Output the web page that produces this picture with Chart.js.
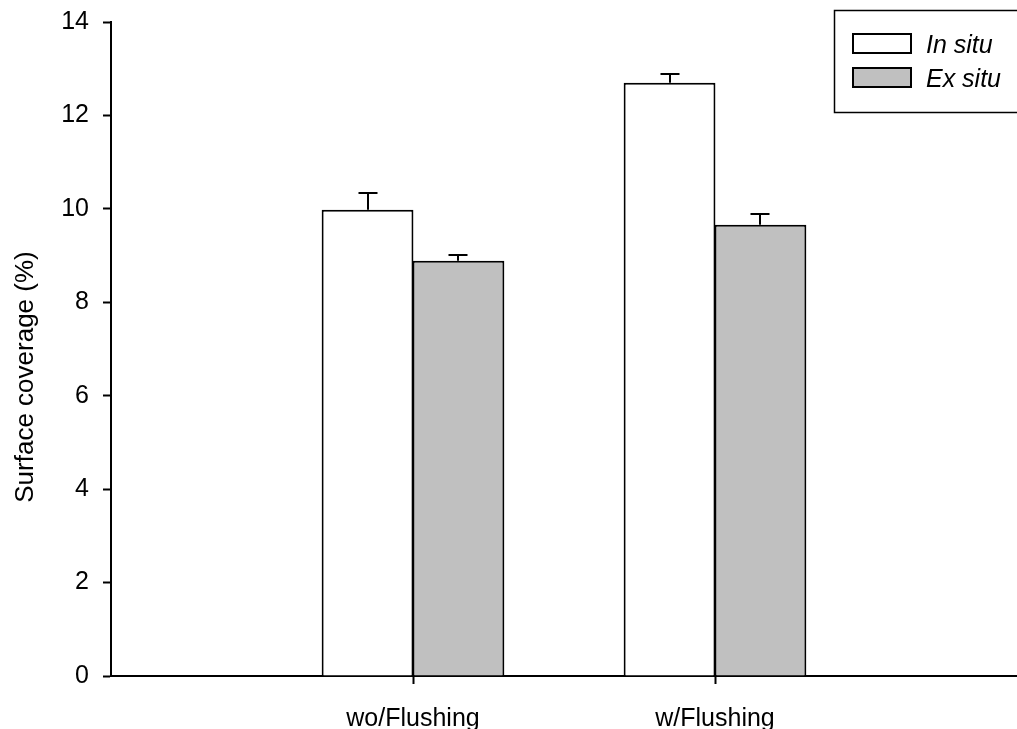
<!DOCTYPE html>
<html>
<head>
<meta charset="utf-8">
<script src="https://cdn.jsdelivr.net/npm/chart.js@4/dist/chart.umd.min.js"></script>
<style>
  html, body { margin: 0; padding: 0; background: #fff; }
  canvas { display: block; }
</style>
</head>
<body>
<canvas id="chart" width="1017" height="729"></canvas>
<script>
// Surface coverage with and without flushing, in situ vs ex situ
const categories = ['wo/Flushing', 'w/Flushing'];
const inSitu     = [9.98, 12.70];
const inSituErr  = [0.35, 0.19];
const exSitu     = [8.89, 9.66];
const exSituErr  = [0.13, 0.22];
const yMax  = 14;
const yStep = 2;
const yTitle = 'Surface coverage (%)';
const seriesNames = ['In situ', 'Ex situ'];

const FONT = '"Liberation Sans", Arial, sans-serif';
Chart.defaults.color = '#000';
Chart.defaults.font.family = FONT;

// empty slots at both ends so the two groups sit at 1/3 and 2/3 of the axis
const labels = ['', ...categories, ''];
const pad = arr => [null, ...arr, null];

// keep the plot area fixed: no extra room reserved for edge labels
function fixSize(size, key) {
  return scale => {
    scale[key] = size;
    scale.paddingTop = 0;
    scale.paddingBottom = 0;
    scale.paddingLeft = 0;
    scale.paddingRight = 0;
  };
}

// upward error bars with a short cap
const errorBars = {
  id: 'errorBars',
  afterDatasetsDraw(chart) {
    const ctx = chart.ctx;
    const y = chart.scales.y;
    ctx.save();
    ctx.strokeStyle = '#000';
    ctx.lineWidth = 2;
    chart.data.datasets.forEach((ds, di) => {
      const meta = chart.getDatasetMeta(di);
      meta.data.forEach((el, i) => {
        const v = ds.data[i];
        const e = ds.errors[i];
        if (v == null || e == null) return;
        const x = Math.round(el.x);
        const y0 = y.getPixelForValue(v);
        const y1 = Math.round(y.getPixelForValue(v + e));
        ctx.beginPath();
        ctx.moveTo(x, y0);
        ctx.lineTo(x, y1);
        ctx.moveTo(x - 9.5, y1);
        ctx.lineTo(x + 9.5, y1);
        ctx.stroke();
      });
    });
    ctx.restore();
  }
};

// rotated axis title and boxed legend
const decorations = {
  id: 'decorations',
  afterDraw(chart) {
    const ctx = chart.ctx;
    ctx.save();
    ctx.fillStyle = '#000';
    ctx.translate(33, 377);
    ctx.rotate(-Math.PI / 2);
    ctx.font = '26px ' + FONT;
    ctx.textAlign = 'center';
    ctx.textBaseline = 'alphabetic';
    ctx.fillText(yTitle, 0, 0);
    ctx.restore();

    ctx.save();
    ctx.strokeStyle = '#000';
    ctx.lineWidth = 1.5;
    ctx.strokeRect(834.5, 10.5, 200, 102);
    const rows = [34, 68];
    chart.data.datasets.forEach((ds, i) => {
      const top = rows[i];
      ctx.fillStyle = ds.backgroundColor;
      ctx.fillRect(853, top, 58, 19);
      ctx.lineWidth = 2;
      ctx.strokeRect(853, top, 58, 19);
      ctx.fillStyle = '#000';
      ctx.font = 'italic 25px ' + FONT;
      ctx.textAlign = 'left';
      ctx.textBaseline = 'alphabetic';
      ctx.fillText(seriesNames[i], 926, top + 19);
    });
    ctx.restore();
  }
};

new Chart(document.getElementById('chart'), {
  type: 'bar',
  data: {
    labels: labels,
    datasets: [
      {
        label: seriesNames[0],
        data: pad(inSitu),
        errors: pad(inSituErr),
        backgroundColor: '#ffffff',
        borderColor: '#000',
        borderWidth: 2,
        borderSkipped: 'bottom'
      },
      {
        label: seriesNames[1],
        data: pad(exSitu),
        errors: pad(exSituErr),
        backgroundColor: '#c0c0c0',
        borderColor: '#000',
        borderWidth: 2,
        borderSkipped: 'bottom'
      }
    ]
  },
  options: {
    responsive: false,
    animation: false,
    devicePixelRatio: 1,
    layout: { padding: { top: 22, left: 0, right: 0, bottom: 0 } },
    categoryPercentage: 0.602,
    barPercentage: 1.01,
    plugins: {
      legend: { display: false },
      tooltip: { enabled: false },
      title: { display: false }
    },
    scales: {
      x: {
        type: 'category',
        offset: false,
        grid: {
          offset: false,
          drawOnChartArea: false,
          drawTicks: true,
          tickLength: 8,
          tickWidth: 2,
          tickColor: c => (c.index === 0 || c.index === labels.length - 1) ? 'rgba(0,0,0,0)' : '#000'
        },
        border: { display: true, color: '#000', width: 2 },
        ticks: {
          font: { size: 25, family: FONT },
          color: '#000',
          padding: 20,
          maxRotation: 0,
          autoSkip: false
        },
        afterFit: fixSize(53, 'height')
      },
      y: {
        min: 0,
        max: yMax,
        grid: {
          drawOnChartArea: false,
          drawTicks: true,
          tickLength: 8,
          tickWidth: 2,
          tickColor: '#000'
        },
        border: { display: true, color: '#000', width: 2 },
        ticks: {
          stepSize: yStep,
          font: { size: 25, family: FONT },
          color: '#000',
          padding: 14
        },
        afterFit: fixSize(111, 'width')
      }
    }
  },
  plugins: [errorBars, decorations]
});
</script>
</body>
</html>
